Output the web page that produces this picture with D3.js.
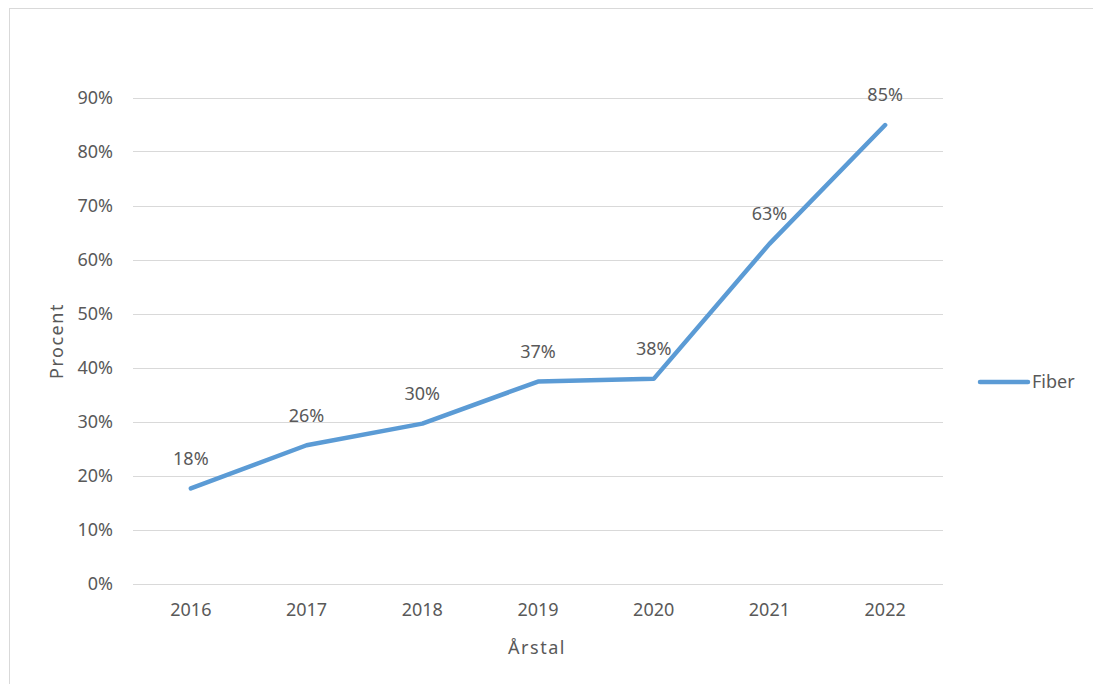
<!DOCTYPE html>
<html><head><meta charset="utf-8">
<script src="https://cdn.jsdelivr.net/npm/d3@7"></script>
<style>body{margin:0;background:#fff}svg{display:block}text{font-family:"Noto Sans",sans-serif;fill:#595959}</style>
</head><body><svg id="c" width="1093" height="684"></svg>
<script>
const years = ["2016","2017","2018","2019","2020","2021","2022"];
const fiber = [0.176, 0.256, 0.296, 0.374, 0.379, 0.629, 0.849];
const yTicks = [0,0.1,0.2,0.3,0.4,0.5,0.6,0.7,0.8,0.9];
const seriesName = "Fiber";
const xTitle = "Årstal", yTitle = "Procent";

const svg = d3.select("#c");
svg.append("rect").attr("x",9.5).attr("y",8.5).attr("width",1100).attr("height",700)
  .attr("fill","#fff").attr("stroke","#d9d9d9");
const L=133, R=943, T=97.5, B=583.5;
const x = d3.scaleBand().domain(years).range([L,R]);
const y = d3.scaleLinear().domain([0,0.9]).range([B,T]);
const fmt = d3.format(".0%");
const fs = 18;

svg.append("g").selectAll("line").data(yTicks).join("line")
  .attr("x1",L).attr("x2",R).attr("y1",d=>Math.round(y(d))+0.5).attr("y2",d=>Math.round(y(d))+0.5)
  .attr("stroke","#d9d9d9").attr("stroke-width",1);
svg.append("g").selectAll("text").data(yTicks).join("text")
  .attr("x",113).attr("y",d=>y(d)).attr("dy","0.35em").attr("text-anchor","end")
  .attr("font-size",fs).text(d=>fmt(d));
svg.append("g").selectAll("text").data(years).join("text")
  .attr("x",d=>x(d)+x.bandwidth()/2).attr("y",610).attr("dy","0.35em").attr("text-anchor","middle")
  .attr("font-size",fs).text(d=>d);

const line = d3.line().x((d,i)=>x(years[i])+x.bandwidth()/2).y(d=>y(d));
svg.append("path").datum(fiber).attr("d",line).attr("fill","none")
  .attr("stroke","#5b9bd5").attr("stroke-width",4.5).attr("stroke-linecap","round").attr("stroke-linejoin","round");
svg.append("g").selectAll("text").data(fiber).join("text")
  .attr("x",(d,i)=>x(years[i])+x.bandwidth()/2).attr("y",d=>y(d)-30).attr("dy","0.35em")
  .attr("text-anchor","middle").attr("font-size",fs).text(d=>fmt(d));

svg.append("text").attr("transform","translate(57,341) rotate(-90)").attr("dy","0.35em")
  .attr("text-anchor","middle").attr("font-size",fs).attr("letter-spacing","1.5px").text(yTitle);
svg.append("text").attr("x",537).attr("y",648).attr("dy","0.35em")
  .attr("text-anchor","middle").attr("font-size",fs).attr("letter-spacing","1.5px").text(xTitle);

svg.append("line").attr("x1",980).attr("x2",1028).attr("y1",382).attr("y2",382)
  .attr("stroke","#5b9bd5").attr("stroke-width",4.5).attr("stroke-linecap","round");
svg.append("text").attr("x",1032).attr("y",382).attr("dy","0.35em").attr("font-size",fs).text(seriesName);
</script></body></html>
